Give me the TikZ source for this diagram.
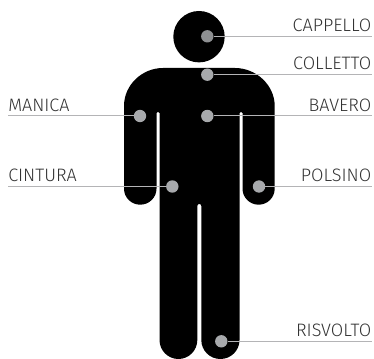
\documentclass[tikz,border=0pt]{standalone}
\usepackage{fontspec}
\setmainfont{Fira Sans Light}
\usepackage{xcolor}
\usetikzlibrary{positioning, calc}
\definecolor{dotgray}{HTML}{A7A9AC}
\definecolor{linegray}{HTML}{B4B4B6}
\definecolor{txtgray}{HTML}{333333}

\begin{document}
\begin{tikzpicture}[x=0.75pt, y=-0.75pt]
        \tikzstyle{lbl} = [inner sep=0pt, text=txtgray, font=\fontsize{13.5}{15}\selectfont]
        \tikzstyle{nd} = [circle, minimum size=9.3pt, inner sep=0pt, fill=dotgray]
        \tikzstyle{conn} = [line width=0.75pt, draw=linegray]

        \useasboundingbox (0, 0) rectangle (374, 359);

        % Figure
        \fill [black] (199, 36.7) circle [radius=25.7];
        \fill [black] (124, 106) .. controls (124, 85) and (142, 68) .. (163, 68) -- (235, 68)
            .. controls (256, 68) and (274.7, 85) .. (274.7, 106) -- (274.7, 188.7)
            .. controls (274.7, 197.5) and (267.5, 204.7) .. (258.6, 204.7)
            .. controls (249.7, 204.7) and (242.5, 197.5) .. (242.5, 188.7) -- (242.5, 113)
            .. controls (242.5, 111.5) and (239.5, 111.5) .. (239.5, 113) -- (239.5, 340)
            .. controls (239.5, 350.5) and (231, 359) .. (220.4, 359)
            .. controls (209.8, 359) and (201.3, 350.5) .. (201.3, 340) -- (201.3, 206)
            .. controls (201.3, 203.3) and (197.3, 203.3) .. (197.3, 206) -- (197.3, 340)
            .. controls (197.3, 350.5) and (188.8, 359) .. (178.4, 359)
            .. controls (168, 359) and (159.5, 350.5) .. (159.5, 340) -- (159.5, 113)
            .. controls (159.5, 111.5) and (156.5, 111.5) .. (156.5, 113) -- (156.5, 188.7)
            .. controls (156.5, 197.5) and (149.2, 204.7) .. (140.2, 204.7)
            .. controls (131.2, 204.7) and (124, 197.5) .. (124, 188.7) -- cycle;

        % Points
        \node (cappello) [nd, fill=dotgray!85!black] at (207.3, 36.3) {};
        \node (colletto) [nd] at (207.3, 74.7) {};
        \node (bavero) [nd] at (207.3, 116) {};
        \node (manica) [nd] at (140, 116) {};
        \node (cintura) [nd] at (172.3, 186.5) {};
        \node (polsino) [nd] at (259, 186.5) {};
        \node (risvolto) [nd] at (221.3, 341.3) {};

        % Right side
        \foreach \n/\t/\y in {cappello/CAPPELLO/36, colletto/COLLETTO/74, bavero/BAVERO/116, polsino/POLSINO/186, risvolto/RISVOLTO/341} {
            \coordinate (\n end) at (372, \y);
            \draw [conn] (\n) -- (\n end |- \n);
            \node (\n lab) [lbl, anchor=base east] at (371.5, \y - 4.3) {\t};
        }

        % Left side
        \foreach \n/\t/\y in {manica/MANICA/116, cintura/CINTURA/186} {
            \coordinate (\n end) at (8, \y);
            \draw [conn] (\n) -- (\n end |- \n);
            \node (\n lab) [lbl, anchor=base west] at (8, \y - 4.3) {\t};
        }
    \end{tikzpicture}
\end{document}
